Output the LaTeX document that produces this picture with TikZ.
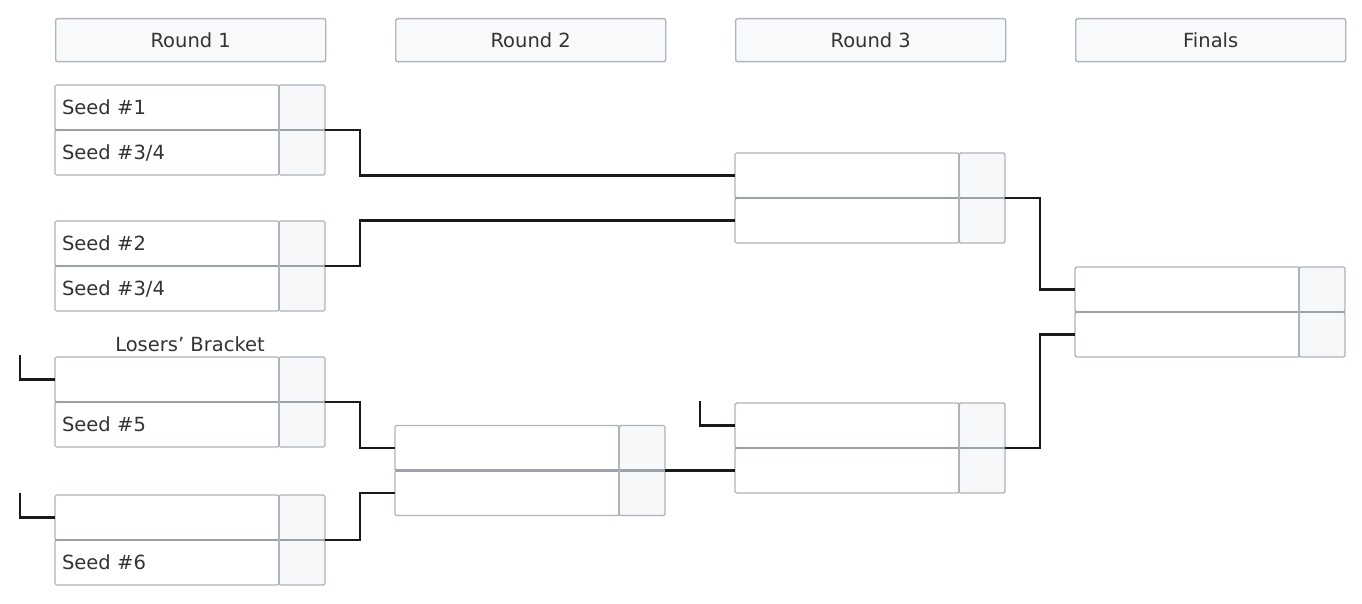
\documentclass[tikz,border=0pt]{standalone}
\usepackage{fontspec}
\setmainfont{DejaVu Sans}
\definecolor{bordergray}{HTML}{AEB4BB}
\definecolor{sepgray}{HTML}{9AA1A9}
\definecolor{scorefill}{HTML}{F7F8FA}
\definecolor{headfill}{HTML}{F8F9FB}
\definecolor{txt}{HTML}{333333}
\definecolor{wire}{HTML}{1A1A1A}
\tikzset{
  namebox/.style={draw=bordergray, line width=1.4pt, fill=white, rounded corners=1.5pt,
    minimum width=224pt, minimum height=45pt, inner sep=0pt, outer sep=0pt, anchor=north west,
    text width=210pt, align=left, font=\fontsize{19.5}{22}\selectfont, text=txt},
  scorebox/.style={draw=bordergray, line width=1.4pt, fill=scorefill, rounded corners=1.5pt,
    minimum width=46pt, minimum height=45pt, inner sep=0pt, outer sep=0pt, anchor=north west},
  headbox/.style={draw=bordergray, line width=1.4pt, fill=headfill, rounded corners=2pt,
    minimum width=270pt, minimum height=43pt, inner sep=0pt, anchor=north west,
    font=\fontsize{19.5}{22}\selectfont, text=txt},
  sepline/.style={draw=sepgray, line width=2.6pt},
  wireline/.style={draw=wire, line width=2.5pt},
  lbl/.style={font=\fontsize{19.5}{22}\selectfont, text=txt, inner sep=0pt}
}
\newcommand\bracketmatch[5]{%
  \node[namebox] (#1-a) at (#2,#3) {#4};
  \node[scorebox] (#1-as) at (#2+224,#3) {};
  \node[namebox] (#1-b) at (#2,#3+45) {#5};
  \node[scorebox] (#1-bs) at (#2+224,#3+45) {};
  \draw[sepline] (#1-a.south west) -- (#1-as.south east);
  \draw[draw=bordergray, line width=1.4pt] (#1-as.north west) -- (#1-bs.south west);
}
\begin{document}
\begin{tikzpicture}[x=1pt,y=-1pt]
\useasboundingbox (0,0) rectangle (1362,604);
% headers
\node[headbox] (h1) at (55,18) {Round 1};
\node[headbox] (h2) at (395,18) {Round 2};
\node[headbox] (h3) at (735,18) {Round 3};
\node[headbox] (h4) at (1075,18) {Finals};
% round 1
\bracketmatch{m1}{55}{85}{Seed \#1}{Seed \#3/4}
\bracketmatch{m2}{55}{221}{Seed \#2}{Seed \#3/4}
\bracketmatch{m3}{55}{357}{}{Seed \#5}
\bracketmatch{m4}{55}{495}{}{Seed \#6}
\node[lbl, anchor=base] (lb) at (190,351) {Losers' Bracket};
% round 2
\bracketmatch{r2}{395}{425.5}{}{}
% round 3
\bracketmatch{r3a}{735}{153}{}{}
\bracketmatch{r3b}{735}{403}{}{}
% finals
\bracketmatch{f}{1075}{267}{}{}
% connectors
\draw[wireline] (m1-as.south east) -- ++(35,0) |- (r3a-a.west);
\draw[wireline] (m2-as.south east) -- ++(35,0) |- (r3a-b.west);
\draw[wireline] (m3-as.south east) -- ++(35,0) |- (r2-a.west);
\draw[wireline] (m4-as.south east) -- ++(35,0) |- (r2-b.west);
\draw[wireline] (r2-as.south east) -- (r2-as.south east -| r3b-b.west);
\draw[wireline] (r3a-as.south east) -- ++(35,0) |- (f-a.west);
\draw[wireline] (r3b-as.south east) -- ++(35,0) |- (f-b.west);
% free stubs
\coordinate (s1) at (20,355);
\coordinate (s2) at (20,493);
\coordinate (s3) at (700,401);
\draw[wireline] (s1) |- (m3-a.west);
\draw[wireline] (s2) |- (m4-a.west);
\draw[wireline] (s3) |- (r3b-a.west);
\end{tikzpicture}
\end{document}
